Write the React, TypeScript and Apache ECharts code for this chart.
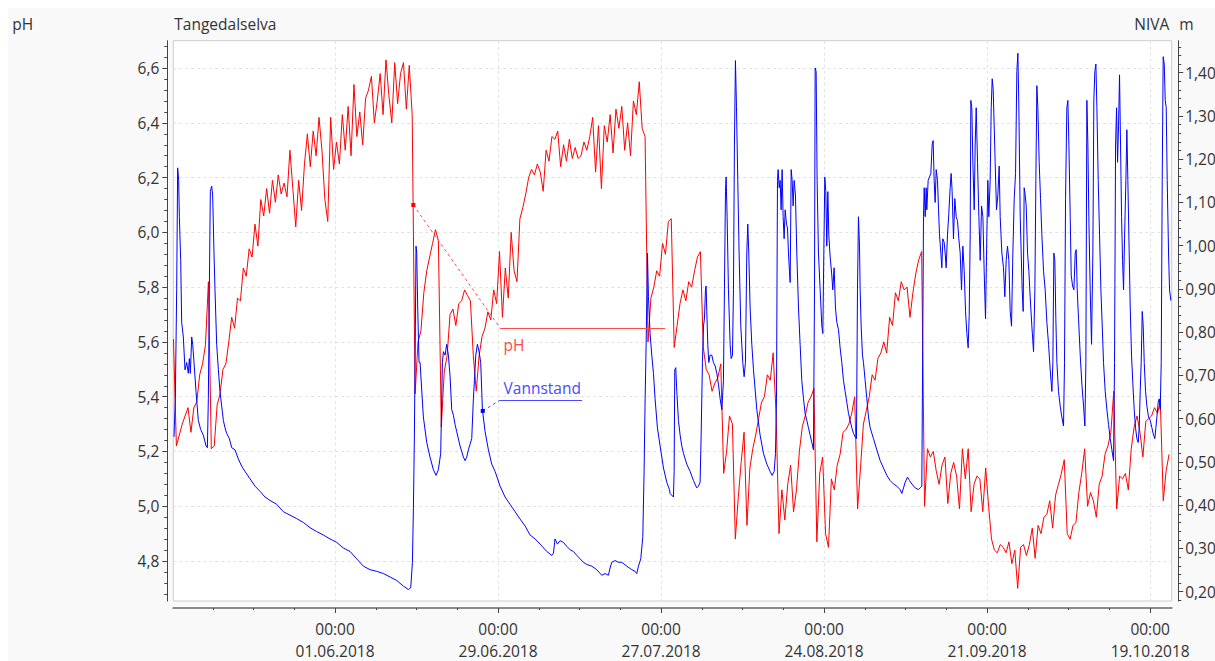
import React, { useEffect, useRef } from 'react';
import * as echarts from 'echarts';

const FONT = '"Open Sans", "Noto Sans", sans-serif';
const FS = 15.5;
const DAY = 86400000;
const BASE = Date.UTC(2018, 5, 1); // 01.06.2018 00:00
const t = (d: number) => BASE + d * DAY;

// x range (days relative to 01.06.2018)
const xMinDay = -27.78;
const xMaxDay = 143.7;
const majorTickDays = [0, 28, 56, 84, 112, 140];
const minorTickDays = [-21, -14, -7, 7, 14, 21, 35, 42, 49, 63, 70, 77, 91, 98, 105, 119, 126, 133];

// pH axis
const phMin = 4.654;
const phMax = 6.70;
const phTicks = [4.8, 5.0, 5.2, 5.4, 5.6, 5.8, 6.0, 6.2, 6.4, 6.6];
const phMinorTicks = [4.68, 4.72, 4.76, 4.84, 4.88, 4.92, 4.96, 5.04, 5.08, 5.12, 5.16, 5.24, 5.28, 5.32, 5.36, 5.44, 5.48, 5.52, 5.56, 5.64, 5.68, 5.72, 5.76, 5.84, 5.88, 5.92, 5.96, 6.04, 6.08, 6.12, 6.16, 6.24, 6.28, 6.32, 6.36, 6.44, 6.48, 6.52, 6.56, 6.64, 6.68];

// water level axis (m)
const levelMin = 0.1785;
const levelMax = 1.474;
const levelTicks = [0.2, 0.3, 0.4, 0.5, 0.6, 0.7, 0.8, 0.9, 1.0, 1.1, 1.2, 1.3, 1.4];
const levelMinorTicks = [0.18, 0.22, 0.24, 0.26, 0.28, 0.32, 0.34, 0.36, 0.38, 0.42, 0.44, 0.46, 0.48, 0.52, 0.54, 0.56, 0.58, 0.62, 0.64, 0.66, 0.68, 0.72, 0.74, 0.76, 0.78, 0.82, 0.84, 0.86, 0.88, 0.92, 0.94, 0.96, 0.98, 1.02, 1.04, 1.06, 1.08, 1.12, 1.14, 1.16, 1.18, 1.22, 1.24, 1.26, 1.28, 1.32, 1.34, 1.36, 1.38, 1.42, 1.44, 1.46];

// pH, logged every 12 h from 04.05.2018 06:00
const phStartDay = -27.75;
const phStepDays = 0.5;
const phValues = [
  5.61, 5.22, 5.26, 5.30, 5.33, 5.36, 5.27, 5.36, 5.38, 5.48,
  5.52, 5.59, 5.82, 5.21, 5.22, 5.37, 5.41, 5.50, 5.52, 5.60,
  5.69, 5.65, 5.76, 5.75, 5.87, 5.84, 5.94, 5.91, 6.03, 5.95,
  6.12, 6.06, 6.16, 6.07, 6.19, 6.11, 6.21, 6.14, 6.18, 6.13,
  6.30, 6.16, 6.02, 6.19, 6.08, 6.25, 6.36, 6.24, 6.37, 6.28,
  6.42, 6.30, 6.12, 6.04, 6.42, 6.23, 6.33, 6.25, 6.43, 6.30,
  6.46, 6.28, 6.54, 6.35, 6.44, 6.32, 6.49, 6.52, 6.57, 6.40,
  6.48, 6.58, 6.43, 6.63, 6.50, 6.40, 6.62, 6.47, 6.58, 6.62,
  6.45, 6.61, 6.43, 5.41, 5.60, 5.64, 5.78, 5.86, 5.91, 5.96,
  6.01, 5.97, 5.29, 5.49, 5.55, 5.70, 5.72, 5.66, 5.74, 5.75,
  5.79, 5.77, 5.75, 5.55, 5.42, 5.55, 5.62, 5.65, 5.71, 5.68,
  5.79, 5.74, 5.93, 5.69, 5.87, 5.76, 6.00, 5.86, 5.82, 6.05,
  6.09, 6.14, 6.20, 6.23, 6.21, 6.25, 6.22, 6.15, 6.30, 6.26,
  6.35, 6.34, 6.37, 6.24, 6.32, 6.26, 6.34, 6.27, 6.31, 6.27,
  6.28, 6.33, 6.30, 6.35, 6.42, 6.22, 6.39, 6.16, 6.39, 6.33,
  6.43, 6.29, 6.45, 6.38, 6.46, 6.30, 6.40, 6.28, 6.48, 6.43,
  6.55, 6.38, 6.35, 5.60, 5.76, 5.80, 5.86, 5.84, 5.96, 5.92,
  6.04, 6.05, 5.58, 5.66, 5.74, 5.79, 5.75, 5.82, 5.80, 5.86,
  5.91, 5.93, 5.58, 5.50, 5.48, 5.42, 5.45, 5.47, 5.52, 5.12,
  5.20, 5.33, 5.30, 4.88, 5.03, 5.16, 5.27, 4.93, 5.14, 5.21,
  5.26, 5.32, 5.38, 5.40, 5.48, 5.46, 5.56, 5.34, 4.90, 5.06,
  4.95, 5.08, 5.15, 4.98, 5.06, 5.20, 5.29, 5.33, 5.38, 5.40,
  5.43, 4.87, 5.12, 5.18, 4.90, 4.85, 5.10, 5.06, 5.15, 5.19,
  5.27, 5.28, 5.30, 5.34, 5.40, 4.99, 5.14, 5.30, 5.35, 5.40,
  5.48, 5.46, 5.54, 5.56, 5.60, 5.56, 5.69, 5.66, 5.78, 5.75,
  5.82, 5.79, 5.80, 5.69, 5.78, 5.85, 5.90, 5.93, 5.00, 5.21,
  5.18, 5.20, 5.13, 5.08, 5.15, 5.18, 5.01, 5.12, 5.16, 5.11,
  4.99, 5.21, 5.10, 5.21, 4.98, 5.08, 5.11, 5.10, 4.98, 5.14,
  5.00, 4.88, 4.84, 4.83, 4.86, 4.85, 4.83, 4.87, 4.79, 4.84,
  4.70, 4.85, 4.86, 4.82, 4.86, 4.92, 4.81, 4.93, 4.90, 4.96,
  4.97, 5.02, 4.92, 5.04, 5.08, 5.12, 5.17, 4.90, 4.88, 4.93,
  4.94, 5.05, 5.12, 5.21, 5.00, 5.05, 5.02, 4.96, 5.08, 5.11,
  5.19, 5.22, 5.27, 5.42, 4.99, 5.11, 5.10, 5.12, 5.06, 5.21,
  5.29, 5.33, 5.27, 5.18, 5.31, 5.32, 5.33, 5.36, 5.34, 5.38,
  5.02, 5.13, 5.19,
];

// Vannstand [day since 01.06.2018, m]
const levelMay = [
  [-27.66, 0.558], [-27.43, 0.646], [-27.20, 0.898], [-27.03, 1.180], [-26.86, 1.151], [-26.74, 1.067],
  [-26.51, 0.966], [-26.34, 0.823], [-26.06, 0.789], [-25.77, 0.713], [-25.48, 0.730], [-25.20, 0.705],
  [-25.02, 0.739], [-24.85, 0.705], [-24.62, 0.789], [-24.45, 0.772], [-24.22, 0.730], [-23.88, 0.663],
  [-23.48, 0.596], [-23.08, 0.575], [-22.62, 0.562], [-22.16, 0.537], [-21.93, 0.533], [-21.76, 0.646],
  [-21.59, 0.898], [-21.42, 1.125], [-21.19, 1.138], [-21.02, 1.117], [-20.79, 0.983], [-20.62, 0.898],
  [-20.33, 0.772], [-20.04, 0.713], [-19.76, 0.663], [-19.47, 0.629], [-19.18, 0.596], [-18.90, 0.579],
  [-18.61, 0.566], [-18.15, 0.554], [-17.75, 0.533], [-17.18, 0.528], [-16.61, 0.507], [-16.03, 0.490],
  [-15.46, 0.478], [-14.60, 0.461], [-13.74, 0.444], [-12.88, 0.432], [-12.03, 0.419], [-11.17, 0.411],
  [-10.02, 0.402], [-8.88, 0.385], [-7.73, 0.377], [-6.59, 0.369], [-5.44, 0.360], [-4.30, 0.348],
  [-3.15, 0.339], [-2.00, 0.331], [-0.86, 0.322], [0.29, 0.314], [1.43, 0.301], [2.58, 0.293],
  [3.72, 0.276], [4.87, 0.259], [6.01, 0.251], [7.16, 0.247], [8.30, 0.242], [9.45, 0.234],
  [10.59, 0.226], [11.74, 0.213], [12.60, 0.205], [13.00, 0.209], [13.29, 0.268], [13.46, 0.394],
  [13.63, 0.562], [13.80, 0.814], [13.91, 0.999], [14.03, 0.983], [14.20, 0.856], [14.43, 0.730],
];
const levelJun = [
  [14.60, 0.730], [15.17, 0.604], [15.75, 0.545], [16.32, 0.511], [16.89, 0.482], [17.35, 0.469],
  [17.75, 0.482], [18.15, 0.520], [18.32, 0.646], [18.44, 0.730], [18.61, 0.755], [18.90, 0.747],
  [19.18, 0.772], [19.47, 0.747], [19.76, 0.697], [20.04, 0.621], [20.33, 0.608], [20.61, 0.587],
  [20.90, 0.570], [21.47, 0.537], [22.05, 0.511], [22.33, 0.503], [22.62, 0.511], [22.90, 0.528],
  [23.19, 0.541], [23.48, 0.554], [23.76, 0.646], [23.94, 0.688], [24.17, 0.747], [24.45, 0.772],
  [24.74, 0.755], [25.02, 0.730], [25.31, 0.621], [25.77, 0.570], [26.34, 0.528], [26.91, 0.495],
  [27.49, 0.478], [28.35, 0.444], [29.20, 0.419], [30.06, 0.402], [30.92, 0.385], [31.78, 0.368],
  [32.64, 0.352], [33.50, 0.331], [34.36, 0.322], [35.22, 0.310], [36.36, 0.293], [37.22, 0.284],
  [37.51, 0.289], [37.79, 0.322], [38.19, 0.310], [38.65, 0.318], [39.22, 0.314], [39.80, 0.305],
  [40.37, 0.297], [40.94, 0.293], [41.52, 0.284], [42.09, 0.276], [42.66, 0.268], [43.23, 0.263],
  [44.09, 0.259], [44.95, 0.251], [45.81, 0.238], [46.38, 0.242], [46.96, 0.238], [47.24, 0.255],
  [47.53, 0.268], [48.10, 0.272], [48.67, 0.268], [49.25, 0.268], [50.11, 0.259], [50.96, 0.251],
  [51.54, 0.247], [51.82, 0.242], [52.11, 0.259], [52.51, 0.276], [52.86, 0.327], [53.08, 0.478],
  [53.26, 0.646], [53.43, 0.772], [53.66, 0.983], [53.83, 0.882], [54.11, 0.797], [54.40, 0.747],
  [54.69, 0.705], [54.97, 0.646], [55.37, 0.579], [55.83, 0.537], [56.41, 0.486], [56.98, 0.453],
  [57.44, 0.436],
];
const levelAug = [
  [57.55, 0.427], [58.12, 0.419], [58.24, 0.478], [58.35, 0.713], [58.52, 0.718], [58.70, 0.663],
  [58.98, 0.596], [59.27, 0.562], [59.55, 0.537], [59.84, 0.520], [60.41, 0.495], [60.99, 0.478],
  [61.56, 0.457], [62.13, 0.440], [62.42, 0.444], [62.70, 0.453], [62.88, 0.562], [63.10, 0.730],
  [63.28, 0.814], [63.45, 0.831], [63.62, 0.898], [63.73, 0.907], [63.85, 0.848], [64.02, 0.772],
  [64.19, 0.730], [64.42, 0.747], [64.71, 0.747], [64.99, 0.730], [65.28, 0.722], [65.57, 0.705],
  [65.85, 0.680], [66.14, 0.646], [66.43, 0.621], [66.71, 0.688], [66.88, 0.898], [67.06, 1.125],
  [67.17, 1.159], [67.34, 1.067], [67.57, 0.898], [67.86, 0.772], [68.03, 0.739], [68.26, 0.747],
  [68.43, 0.898], [68.60, 1.235], [68.77, 1.428], [68.95, 1.319], [69.17, 1.151], [69.40, 0.983],
  [69.69, 0.814], [70.03, 0.730], [70.26, 0.697], [70.49, 0.730], [70.72, 0.983], [70.89, 1.050],
  [71.06, 0.983], [71.29, 0.856], [71.58, 0.772], [71.87, 0.713], [72.44, 0.621], [73.01, 0.562],
  [73.58, 0.520], [74.16, 0.495], [74.73, 0.478], [75.07, 0.469], [75.42, 0.478], [75.65, 0.520],
  [75.82, 0.646], [75.99, 1.151], [76.10, 1.176], [76.28, 1.134], [76.45, 1.151], [76.62, 1.083],
  [76.79, 1.176], [76.96, 1.067], [77.13, 1.016], [77.31, 1.083], [77.54, 1.050], [77.71, 1.041],
  [77.88, 0.983], [78.05, 0.941], [78.17, 0.915], [78.34, 1.176], [78.51, 1.151], [78.68, 1.092],
  [78.85, 1.151], [79.08, 1.117], [79.31, 0.983], [79.60, 0.856], [79.88, 0.772], [80.17, 0.688],
  [80.46, 0.646], [80.74, 0.612], [81.03, 0.596], [81.31, 0.579], [81.60, 0.562], [81.89, 0.545],
  [82.17, 0.528], [82.35, 0.898], [82.46, 1.411], [82.63, 1.403], [82.80, 1.151], [83.03, 0.983],
  [83.32, 0.898], [83.61, 0.814], [83.78, 0.797], [83.95, 0.983], [84.12, 1.159], [84.29, 1.125],
  [84.46, 0.999], [84.64, 1.125], [84.81, 1.025], [85.04, 0.974], [85.32, 0.932], [85.49, 0.898],
  [85.72, 0.949], [85.95, 0.856], [86.18, 0.823], [86.47, 0.806], [86.75, 0.764], [87.04, 0.730],
  [87.33, 0.688], [87.61, 0.663], [87.90, 0.638], [88.19, 0.612], [88.47, 0.596], [88.76, 0.579],
  [89.05, 0.566], [89.33, 0.558], [89.56, 0.554], [89.73, 0.898], [89.90, 1.067], [90.08, 0.999],
  [90.19, 0.898], [90.36, 0.814], [90.59, 0.747], [90.76, 0.730], [91.05, 0.688], [91.34, 0.646],
  [91.62, 0.604], [91.91, 0.579], [92.48, 0.554], [93.05, 0.528], [93.63, 0.503], [94.20, 0.486],
  [94.77, 0.469], [95.34, 0.457], [95.92, 0.449], [96.49, 0.444], [97.06, 0.436], [97.35, 0.427],
  [97.64, 0.440], [97.92, 0.453], [98.32, 0.465], [98.67, 0.457], [99.07, 0.449], [99.64, 0.440],
  [100.21, 0.436],
];
const levelSep = [
  [100.50, 0.440], [100.78, 0.444], [100.96, 0.814], [101.07, 1.067], [101.19, 1.134], [101.36, 1.067],
  [101.53, 1.134], [101.64, 1.083], [101.87, 1.151], [102.10, 1.159], [102.33, 1.167], [102.56, 1.235],
  [102.73, 1.243], [102.90, 1.151], [103.07, 1.100], [103.25, 1.176], [103.48, 1.151], [103.65, 1.083],
  [103.82, 1.025], [104.05, 0.983], [104.22, 0.949], [104.39, 1.016], [104.62, 1.008], [104.79, 0.983],
  [104.96, 0.949], [105.19, 1.025], [105.42, 1.075], [105.65, 1.134], [105.82, 1.167], [105.99, 1.125],
  [106.22, 1.016], [106.45, 1.109], [106.68, 1.067], [106.91, 1.058], [107.14, 1.016], [107.37, 0.983],
  [107.60, 0.898], [107.83, 0.999], [108.06, 0.941], [108.29, 0.848], [108.52, 0.797], [108.74, 0.764],
  [108.92, 0.839], [109.09, 1.025], [109.20, 1.336], [109.37, 1.319], [109.55, 1.193], [109.78, 1.083],
  [109.95, 1.235], [110.12, 1.319], [110.35, 1.193], [110.58, 1.067], [110.81, 0.966], [111.04, 1.092],
  [111.27, 1.067], [111.49, 0.941], [111.72, 0.831], [111.95, 1.025], [112.12, 1.151], [112.29, 1.067],
  [112.52, 1.151], [112.70, 1.319], [112.87, 1.386], [113.04, 1.361], [113.21, 1.277], [113.38, 1.193],
  [113.61, 1.083], [113.84, 1.117], [114.07, 1.184], [114.24, 1.067], [114.53, 0.983], [114.81, 0.949],
  [115.04, 0.882], [115.27, 0.966], [115.50, 0.999], [115.73, 0.966], [115.96, 0.848], [116.19, 0.814],
  [116.42, 0.983], [116.65, 1.109], [116.88, 1.167], [117.10, 1.403], [117.28, 1.445], [117.45, 1.319],
  [117.68, 1.067], [117.85, 0.983], [118.02, 0.898], [118.19, 0.848], [118.36, 1.134], [118.54, 1.117],
  [118.71, 1.092], [118.94, 0.983], [119.17, 0.941], [119.39, 0.882], [119.68, 0.814], [119.97, 0.755],
  [120.20, 0.898], [120.37, 1.151], [120.54, 1.370], [120.71, 1.319], [120.94, 1.193], [121.17, 1.109],
  [121.40, 1.025], [121.69, 0.941], [121.97, 0.898], [122.26, 0.823], [122.55, 0.772], [122.83, 0.713],
  [123.12, 0.663], [123.29, 0.730], [123.46, 0.983], [123.63, 0.966], [123.80, 0.831], [123.98, 0.730],
  [124.26, 0.663], [124.55, 0.629], [124.83, 0.604], [125.12, 0.583], [125.29, 0.730], [125.47, 1.109],
  [125.69, 1.319], [125.87, 1.336], [126.04, 1.235], [126.27, 1.067], [126.44, 0.932], [126.67, 0.907],
  [126.90, 0.898], [127.13, 0.983], [127.30, 0.991], [127.47, 0.898], [127.70, 0.831], [127.99, 0.747],
  [128.27, 0.680], [128.56, 0.629], [128.79, 0.583], [128.96, 0.730], [129.13, 1.336], [129.30, 1.235],
  [129.47, 1.067], [129.70, 0.898], [129.93, 0.772], [130.16, 0.983], [130.33, 1.336], [130.50, 1.403],
  [130.68, 1.420], [130.85, 1.319], [131.08, 1.151], [131.31, 1.025], [131.54, 0.898], [131.77, 0.814],
  [131.99, 0.730], [132.28, 0.663], [132.57, 0.621], [132.85, 0.587], [133.14, 0.554], [133.43, 0.528],
  [133.71, 0.503], [133.88, 0.730], [134.06, 1.235], [134.23, 1.319], [134.40, 1.193], [134.57, 1.277],
  [134.74, 1.395], [134.91, 1.235], [135.09, 1.067], [135.26, 0.966], [135.43, 0.898], [135.60, 1.016],
  [135.83, 1.151], [136.00, 1.268], [136.17, 1.151], [136.40, 0.983], [136.58, 0.856], [136.80, 0.747],
  [137.03, 0.680], [137.26, 0.621], [137.49, 0.579], [137.72, 0.554], [137.95, 0.545], [138.12, 0.579],
  [138.29, 0.663], [138.46, 0.730], [138.64, 0.848], [138.81, 0.814], [138.98, 0.730], [139.21, 0.663],
  [139.44, 0.629], [139.72, 0.604], [140.01, 0.596], [140.30, 0.579], [140.58, 0.562], [140.81, 0.554],
  [140.98, 0.579], [141.16, 0.604], [141.38, 0.638], [141.56, 0.646], [141.73, 0.621], [141.90, 0.730],
  [142.07, 1.151], [142.24, 1.437], [142.42, 1.420], [142.59, 1.336], [142.76, 1.319], [142.93, 1.151],
  [143.16, 0.983], [143.33, 0.898], [143.56, 0.873],
];

// callout annotations [day, value]
const phNoteAnchor = [13.45, 6.10];
const phNoteElbow = [28.35, 5.651];
const phNoteEndDay = 56.69;
const phNoteText = [28.86, 5.589];
const levelNoteAnchor = [25.37, 0.618];
const levelNoteElbow = [28.35, 0.643];
const levelNoteEndDay = 42.43;
const levelNoteText = [28.86, 0.671];

const RED = '#ff0000';
const BLUE = '#0000ff';
const NOTE_RED = '#ff4a4a';
const NOTE_BLUE = '#4a4aff';
const TEXT = '#333333';
const AXIS = '#444444';

const pad = (n: number) => String(n).padStart(2, '0');
const fmtDate = (v: number) => {
  const d = new Date(v);
  return `${pad(d.getUTCHours())}:${pad(d.getUTCMinutes())}\n${pad(d.getUTCDate())}.${pad(d.getUTCMonth() + 1)}.${d.getUTCFullYear()}`;
};

function buildOption() {
  const phData = phValues.map((v, i) => [t(phStartDay + i * phStepDays), v]);
  const levelData = [...levelMay, ...levelJun, ...levelAug, ...levelSep].map(([d, m]) => [t(d), m]);
  const xMin = t(xMinDay);
  const xMax = t(xMaxDay);
  const majorX = majorTickDays.map(t);
  const minorX = minorTickDays.map(t);

  const noteLabel = (text: string, color: string) => ({
    show: true,
    formatter: text,
    position: 'right',
    distance: 0,
    color,
    fontSize: FS,
    fontFamily: FONT,
  });

  return {
    animation: false,
    backgroundColor: '#f9f9f9',
    textStyle: { fontFamily: FONT },
    grid: {
      left: 165.3,
      right: 43.3,
      top: 32.7,
      bottom: 60,
      containLabel: false,
      outerBoundsMode: 'none',
      show: true,
      backgroundColor: '#ffffff',
      borderColor: '#cccccc',
      borderWidth: 1,
    },
    graphic: [
      { type: 'text', x: 4.3, y: 16, style: { text: 'pH', fill: TEXT, font: `${FS}px ${FONT}`, verticalAlign: 'middle' } },
      { type: 'text', x: 166.3, y: 16, style: { text: 'Tangedalselva', fill: TEXT, font: `${FS}px ${FONT}`, verticalAlign: 'middle' } },
      { type: 'text', x: 1126.3, y: 16, style: { text: 'NIVA', fill: TEXT, font: `${FS}px ${FONT}`, verticalAlign: 'middle' } },
      { type: 'text', x: 1171.3, y: 16, style: { text: 'm', fill: TEXT, font: `${FS}px ${FONT}`, verticalAlign: 'middle' } },
    ],
    xAxis: [
      {
        type: 'value',
        min: xMin,
        max: xMax,
        position: 'bottom',
        offset: 7,
        axisLine: { show: true, lineStyle: { color: '#8a8a8a', width: 2 } },
        axisTick: { show: true, customValues: minorX, length: 2, lineStyle: { color: AXIS } },
        axisLabel: { show: false },
        splitLine: { show: false },
      },
      {
        type: 'value',
        min: xMin,
        max: xMax,
        position: 'bottom',
        offset: 7,
        axisLine: { show: false },
        axisTick: { show: true, customValues: majorX, length: 5, lineStyle: { color: AXIS } },
        axisLabel: {
          show: true,
          customValues: majorX,
          formatter: (v: number) => fmtDate(v),
          color: TEXT,
          fontSize: FS,
          lineHeight: 22,
          margin: 10,
          fontFamily: FONT,
        },
        splitLine: { show: true, lineStyle: { color: '#e2e2e2', type: [3, 3], width: 1 } },
      },
    ],
    yAxis: [
      {
        type: 'value',
        position: 'left',
        min: phMin,
        max: phMax,
        offset: 6,
        axisLine: { show: true, lineStyle: { color: AXIS } },
        axisTick: { show: true, customValues: phTicks, length: 5, lineStyle: { color: AXIS } },
        axisLabel: {
          show: true,
          customValues: phTicks,
          formatter: (v: number) => v.toFixed(1).replace('.', ','),
          color: TEXT,
          fontSize: FS,
          margin: 8,
          fontFamily: FONT,
        },
        splitLine: { show: true, lineStyle: { color: '#e2e2e2', type: [3, 3], width: 1 } },
      },
      {
        type: 'value',
        position: 'left',
        min: phMin,
        max: phMax,
        offset: 6,
        axisLine: { show: false },
        axisTick: { show: true, customValues: phMinorTicks, length: 3, lineStyle: { color: AXIS } },
        axisLabel: { show: false },
        splitLine: { show: false },
      },
      {
        type: 'value',
        position: 'right',
        min: levelMin,
        max: levelMax,
        offset: 6.5,
        axisLine: { show: true, lineStyle: { color: AXIS } },
        axisTick: { show: true, customValues: levelTicks, length: 5, lineStyle: { color: AXIS } },
        axisLabel: {
          show: true,
          customValues: levelTicks,
          formatter: (v: number) => v.toFixed(2).replace('.', ','),
          color: TEXT,
          fontSize: FS,
          margin: 7,
          fontFamily: FONT,
        },
        splitLine: { show: false },
      },
      {
        type: 'value',
        position: 'right',
        min: levelMin,
        max: levelMax,
        offset: 6.5,
        axisLine: { show: false },
        axisTick: { show: true, customValues: levelMinorTicks, length: 3, lineStyle: { color: AXIS } },
        axisLabel: { show: false },
        splitLine: { show: false },
      },
    ],
    series: [
      {
        name: 'pH',
        type: 'line',
        xAxisIndex: 0,
        yAxisIndex: 0,
        data: phData,
        showSymbol: false,
        symbol: 'none',
        lineStyle: { color: RED, width: 1 },
        itemStyle: { color: RED },
        markLine: {
          silent: true,
          symbol: ['none', 'none'],
          animation: false,
          label: { show: false },
          lineStyle: { color: NOTE_RED, width: 1, type: 'solid' },
          data: [
            [
              { coord: [t(phNoteAnchor[0]), phNoteAnchor[1]], lineStyle: { type: [3, 3], color: NOTE_RED, width: 1 } },
              { coord: [t(phNoteElbow[0]), phNoteElbow[1]] },
            ],
            [
              { coord: [t(phNoteElbow[0]), phNoteElbow[1]] },
              { coord: [t(phNoteEndDay), phNoteElbow[1]] },
            ],
          ],
        },
        markPoint: {
          silent: true,
          animation: false,
          data: [
            { coord: [t(phNoteAnchor[0]), phNoteAnchor[1]], symbol: 'rect', symbolSize: 4, itemStyle: { color: RED }, label: { show: false } },
            { coord: [t(phNoteText[0]), phNoteText[1]], symbol: 'rect', symbolSize: 1, itemStyle: { color: 'rgba(0,0,0,0)' }, label: noteLabel('pH', NOTE_RED) },
          ],
        },
      },
      {
        name: 'Vannstand',
        type: 'line',
        xAxisIndex: 0,
        yAxisIndex: 2,
        data: levelData,
        showSymbol: false,
        symbol: 'none',
        lineStyle: { color: BLUE, width: 1 },
        itemStyle: { color: BLUE },
        markLine: {
          silent: true,
          symbol: ['none', 'none'],
          animation: false,
          label: { show: false },
          lineStyle: { color: NOTE_BLUE, width: 1, type: 'solid' },
          data: [
            [
              { coord: [t(levelNoteAnchor[0]), levelNoteAnchor[1]], lineStyle: { type: [3, 3], color: NOTE_BLUE, width: 1 } },
              { coord: [t(levelNoteElbow[0]), levelNoteElbow[1]] },
            ],
            [
              { coord: [t(levelNoteElbow[0]), levelNoteElbow[1]] },
              { coord: [t(levelNoteEndDay), levelNoteElbow[1]] },
            ],
          ],
        },
        markPoint: {
          silent: true,
          animation: false,
          data: [
            { coord: [t(levelNoteAnchor[0]), levelNoteAnchor[1]], symbol: 'rect', symbolSize: 4, itemStyle: { color: BLUE }, label: { show: false } },
            { coord: [t(levelNoteText[0]), levelNoteText[1]], symbol: 'rect', symbolSize: 1, itemStyle: { color: 'rgba(0,0,0,0)' }, label: noteLabel('Vannstand', NOTE_BLUE) },
          ],
        },
      },
    ],
  };
}

export default function App() {
  const ref = useRef<HTMLDivElement>(null);
  useEffect(() => {
    if (!ref.current) return;
    const chart = echarts.init(ref.current, null, { renderer: 'svg' });
    chart.setOption(buildOption() as any);
    return () => chart.dispose();
  }, []);
  return <div ref={ref} style={{ position: 'absolute', left: 8, top: 8, width: 1207, height: 653 }} />;
}
